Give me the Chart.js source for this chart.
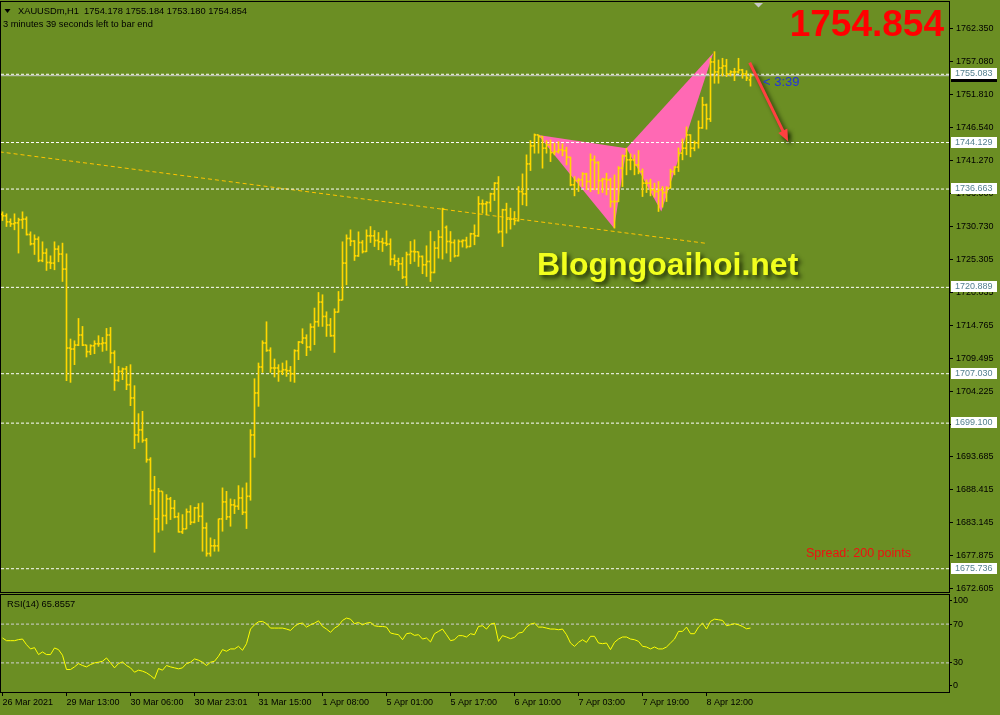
<!DOCTYPE html>
<html><head><meta charset="utf-8">
<script src="https://cdn.jsdelivr.net/npm/chart.js@4.4.1/dist/chart.umd.min.js"></script>
<style>
html,body{margin:0;padding:0;background:#6B8E23;width:1000px;height:715px;overflow:hidden;position:relative}
#c1{position:absolute;left:0;top:0}
#c2{position:absolute;left:0;top:590px}
</style></head><body>
<canvas id="c1" width="1000" height="594"></canvas>
<canvas id="c2" width="1000" height="125"></canvas>
<script>
const FONT = '"Liberation Sans", Arial, sans-serif';

// ---- data (XAUUSDm H1) ----
const xTickLabels = ['26 Mar 2021','29 Mar 13:00','30 Mar 06:00','30 Mar 23:01','31 Mar 15:00','1 Apr 08:00','5 Apr 01:00','5 Apr 17:00','6 Apr 10:00','7 Apr 03:00','7 Apr 19:00','8 Apr 12:00'];
const priceTickLabels = ['1762.350','1757.080','1751.810','1746.540','1741.270','1736.000','1730.730','1725.305','1720.035','1714.765','1709.495','1704.225','1698.955','1693.685','1688.415','1683.145','1677.875','1672.605'];

const highs = [1733.01,1732.69,1731.89,1732.69,1732.00,1733.01,1732.21,1729.80,1729.32,1729.00,1728.20,1727.08,1725.95,1728.20,1727.56,1727.99,1726.27,1712.60,1712.32,1715.90,
1714.62,1711.63,1711.68,1712.32,1713.13,1712.85,1714.30,1714.46,1710.72,1708.20,1707.95,1708.20,1708.48,1705.11,1700.62,1700.99,1696.66,1693.56,1690.57,1688.64,
1688.11,1687.63,1687.20,1686.72,1684.70,1684.42,1685.34,1685.87,1685.60,1686.19,1686.30,1683.09,1680.69,1680.42,1683.73,1688.71,1688.16,1686.94,1686.83,1689.07,
1688.71,1689.51,1698.05,1706.23,1708.75,1712.32,1715.37,1711.20,1709.39,1708.48,1708.75,1709.12,1708.20,1710.88,1712.21,1714.25,1713.29,1715.05,1717.57,1720.07,
1719.70,1716.97,1715.90,1717.45,1720.23,1728.20,1729.32,1730.12,1728.41,1729.80,1728.41,1730.12,1730.65,1730.01,1729.69,1728.79,1729.96,1728.68,1726.11,1725.58,
1725.68,1726.55,1728.25,1728.52,1726.60,1725.95,1727.56,1729.85,1728.25,1730.01,1733.60,1730.76,1729.85,1728.52,1728.52,1728.52,1728.95,1729.59,1730.92,1735.46,
1734.93,1734.66,1736.01,1737.71,1738.67,1733.44,1734.40,1733.60,1733.06,1737.06,1739.10,1742.15,1744.44,1745.51,1745.35,1745.10,1744.44,1744.55,1744.02,1744.28,
1743.91,1743.38,1741.78,1738.67,1738.41,1739.31,1739.21,1742.31,1741.99,1741.07,1738.41,1739.21,1738.41,1738.94,1740.27,1742.15,1743.22,1742.31,1742.15,1742.84,
1739.90,1738.14,1738.25,1737.61,1737.87,1737.06,1737.06,1739.85,1740.27,1743.27,1744.71,1746.64,1745.40,1744.39,1747.60,1751.40,1750.32,1757.65,1758.71,1757.38,
1757.65,1757.49,1755.66,1756.05,1757.65,1755.89,1755.66,1755.18];

const lows = [1731.61,1730.65,1730.65,1730.12,1726.39,1730.33,1729.27,1727.67,1726.16,1724.99,1724.99,1723.60,1723.87,1723.71,1724.99,1721.83,1705.91,1705.64,1708.48,1711.52,
1711.52,1709.71,1710.08,1710.24,1711.41,1710.61,1710.77,1708.75,1704.35,1705.80,1706.07,1704.47,1701.90,1695.01,1696.02,1696.02,1692.81,1686.03,1678.38,1681.59,
1681.91,1682.93,1683.62,1683.90,1681.59,1681.38,1682.13,1682.82,1683.09,1683.30,1678.54,1677.74,1677.74,1678.54,1678.54,1681.75,1683.62,1682.55,1684.58,1685.23,
1684.42,1682.18,1686.72,1693.61,1701.79,1707.24,1710.61,1707.24,1706.50,1705.80,1706.87,1706.60,1705.80,1705.64,1709.28,1711.84,1709.92,1710.77,1711.68,1714.62,
1714.62,1713.01,1713.01,1710.45,1716.90,1718.85,1721.30,1727.56,1725.20,1725.84,1726.39,1726.60,1728.08,1727.44,1726.92,1726.64,1727.56,1724.46,1724.35,1723.60,
1722.27,1721.19,1724.67,1725.04,1724.24,1723.07,1722.63,1721.83,1723.20,1725.58,1725.42,1726.39,1725.04,1725.74,1725.90,1727.35,1727.19,1727.40,1727.72,1729.05,
1732.80,1732.53,1733.06,1734.82,1729.59,1727.44,1729.59,1730.23,1730.92,1731.50,1734.13,1733.97,1739.63,1742.42,1742.42,1740.01,1742.42,1741.07,1742.15,1742.42,
1741.99,1740.54,1737.18,1735.57,1736.26,1737.06,1736.54,1736.26,1736.54,1735.89,1736.10,1735.73,1733.76,1730.39,1734.66,1737.06,1738.94,1739.74,1738.94,1739.10,
1735.46,1736.10,1735.57,1735.36,1733.06,1733.76,1734.66,1736.80,1738.94,1739.47,1741.35,1742.15,1741.83,1742.79,1743.22,1746.40,1746.27,1747.49,1753.64,1753.64,
1754.81,1754.70,1754.81,1754.06,1755.25,1754.44,1754.06,1753.18];

const opens = [1732.60,1732.37,1731.40,1731.08,1731.24,1731.73,1731.84,1729.37,1727.88,1728.63,1725.20,1726.39,1724.88,1724.78,1727.03,1726.23,1723.82,1711.15,1710.99,1711.63,
1713.24,1711.63,1710.56,1711.52,1711.84,1711.84,1711.96,1713.24,1710.35,1705.96,1707.40,1707.79,1705.27,1703.14,1697.20,1698.01,1696.34,1693.24,1688.32,1683.73,
1688.16,1684.26,1686.94,1685.44,1684.06,1681.65,1682.13,1684.86,1683.19,1685.50,1684.15,1682.29,1678.17,1679.41,1679.41,1683.73,1686.46,1684.06,1685.98,1685.76,
1687.10,1684.79,1687.36,1697.20,1703.94,1708.11,1711.96,1710.77,1707.95,1707.95,1707.40,1707.67,1707.51,1707.03,1710.72,1712.11,1712.76,1711.31,1714.52,1715.37,
1718.53,1716.22,1714.84,1713.13,1716.92,1718.85,1724.78,1728.73,1728.31,1725.95,1728.08,1726.64,1729.16,1729.16,1728.41,1728.20,1727.99,1727.83,1725.42,1725.10,
1724.67,1722.54,1726.16,1726.64,1726.59,1725.84,1724.51,1725.04,1723.28,1727.19,1728.95,1730.50,1728.25,1728.08,1725.95,1728.25,1728.41,1727.44,1729.48,1729.16,
1734.29,1734.29,1734.50,1735.89,1737.61,1729.85,1733.33,1731.84,1731.84,1731.61,1736.26,1735.89,1740.70,1743.59,1745.35,1745.08,1743.22,1743.75,1742.52,1742.68,
1742.95,1742.84,1741.78,1737.34,1738.03,1738.14,1739.10,1737.87,1741.35,1740.91,1738.03,1738.25,1738.14,1734.66,1734.66,1740.01,1741.99,1741.35,1741.35,1740.54,
1739.47,1737.61,1737.61,1736.54,1736.26,1736.54,1736.10,1736.81,1739.47,1740.18,1742.42,1743.22,1745.35,1743.22,1744.07,1746.48,1750.16,1747.92,1757.06,1755.46,
1756.10,1756.42,1755.13,1755.46,1755.46,1755.78,1755.13,1754.18];

const closes = [1732.37,1731.40,1731.08,1731.24,1731.73,1731.84,1729.37,1727.88,1728.63,1725.20,1726.39,1724.88,1724.78,1727.03,1726.23,1723.82,1711.15,1710.99,1711.63,1713.24,
1711.63,1710.56,1711.52,1711.84,1711.84,1711.96,1713.24,1710.35,1705.96,1707.40,1707.79,1705.27,1703.14,1697.20,1698.01,1696.34,1693.24,1688.32,1683.73,1688.16,
1684.26,1686.94,1685.44,1684.06,1681.65,1682.13,1684.86,1683.19,1685.50,1684.15,1682.29,1678.17,1679.41,1679.41,1683.73,1686.46,1684.06,1685.98,1685.76,1687.10,
1684.79,1687.36,1697.20,1703.94,1708.11,1711.96,1710.77,1707.95,1707.95,1707.40,1707.67,1707.51,1707.03,1710.72,1712.11,1712.76,1711.31,1714.52,1715.37,1718.53,
1716.22,1714.84,1713.13,1716.92,1718.85,1724.78,1728.73,1728.31,1725.95,1728.08,1726.64,1729.16,1729.16,1728.41,1728.20,1727.99,1727.83,1725.42,1725.10,1724.67,
1722.54,1726.16,1726.64,1726.59,1725.84,1724.51,1725.04,1723.28,1727.19,1728.95,1733.44,1728.25,1728.08,1725.95,1728.25,1728.41,1727.44,1729.48,1729.16,1734.29,
1734.29,1734.50,1735.89,1737.61,1729.85,1733.33,1731.84,1731.84,1731.61,1736.26,1735.89,1740.70,1743.59,1745.35,1745.08,1743.22,1743.75,1742.52,1742.68,1742.95,
1742.84,1741.78,1737.34,1738.03,1738.14,1739.10,1737.87,1741.35,1740.91,1738.03,1738.25,1738.14,1734.66,1734.66,1740.01,1741.99,1741.35,1741.35,1740.54,1739.47,
1737.61,1737.61,1736.54,1736.26,1736.54,1736.10,1736.81,1739.47,1740.18,1742.42,1743.22,1745.35,1743.22,1744.07,1746.48,1750.16,1747.92,1757.06,1755.46,1756.10,
1756.42,1755.13,1755.46,1755.46,1755.78,1755.13,1754.49,1754.854];

const rsi = [55.7,52.9,52.9,52.9,54.0,54.6,48.8,44.4,45.7,38.6,41.3,38.6,38.6,45.4,43.7,37.9,23.2,23.2,25.9,29.3,
27.3,25.9,28.3,30.0,30.7,31.7,35.1,30.0,24.9,29.3,31.0,27.3,24.9,20.4,22.5,21.5,19.8,17.0,13.6,24.2,
22.5,27.3,25.9,24.9,23.9,24.9,29.3,30.7,34.1,32.8,30.7,27.3,30.7,31.7,36.9,43.7,42.0,44.4,44.4,47.1,
43.0,49.8,64.9,69.3,72.4,72.8,70.4,65.9,65.9,65.9,65.9,64.9,63.5,67.6,70.4,71.0,66.9,69.3,71.0,73.4,
67.6,64.9,61.5,65.9,68.3,73.8,76.2,75.1,70.4,71.7,69.3,71.0,71.7,68.3,67.6,67.6,66.9,60.8,59.8,59.1,
53.9,60.1,60.8,58.4,59.1,54.6,55.7,51.6,60.1,62.5,64.9,59.1,52.9,53.9,58.1,58.1,56.7,60.1,59.1,67.6,
68.3,64.9,70.0,71.0,52.2,58.1,56.7,55.0,56.3,60.8,61.5,66.9,70.0,71.0,66.9,66.9,65.9,64.9,64.9,64.2,
64.9,59.1,50.5,47.1,51.2,53.9,51.2,57.4,57.4,50.5,49.8,50.5,43.7,51.2,54.6,56.7,56.7,54.6,53.9,52.2,
47.1,46.4,44.4,46.4,44.4,44.4,46.4,50.5,54.6,62.5,62.5,66.9,60.1,60.1,66.9,71.0,64.9,72.8,75.1,74.5,
73.8,68.3,69.3,70.4,69.3,67.6,65.2,65.9];

const levels = [1755.083, 1744.129, 1736.663, 1720.889, 1707.030, 1699.100, 1675.736];
const bidPrice = 1754.854;
const rsiLevels = [70, 30];
const rsiTickLabels = ['100', '70', '30', '0'];
const rsiTickValues = [94, 70, 30, 6.5];
// harmonic pattern anchors (bar index, price)
const patternXAB = [{x:133.9,y:1745.35},{x:152.9,y:1730.39},{x:156.0,y:1743.22},{x:133.9,y:1745.35}];
const patternBCD = [{x:156.0,y:1743.22},{x:164.7,y:1733.06},{x:177.7,y:1758.50},{x:156.0,y:1743.22}];
const trendLine = [{x:-0.7,y:1742.63},{x:175.8,y:1727.96}];
const arrowPts = [{x:186.8,y:1756.95},{x:196.4,y:1744.28}];

// ---- layout ----
const XMIN = -0.375, XMAX = 236.625;
const GOLD = '#FFD700';

function fixWidth(s){ s.width = 51; s.paddingTop = 0; s.paddingBottom = 0; s.paddingLeft = 0; s.paddingRight = 0; }
function fixHeight(s){ s.height = 23; s.paddingTop = 0; s.paddingBottom = 0; s.paddingLeft = 0; s.paddingRight = 0; }

const borderPlugin = {
  id:'frame',
  afterDraw(chart){
    const {ctx, chartArea:ca} = chart;
    ctx.save();
    ctx.strokeStyle = '#000'; ctx.lineWidth = 1;
    ctx.strokeRect(ca.left-0.5, ca.top-0.5, ca.right-ca.left+1, ca.bottom-ca.top+1);
    ctx.restore();
  }
};

const overlayPlugin = {
  id:'overlay',
  afterDraw(chart){
    const {ctx} = chart;
    const xs = chart.scales.x, ys = chart.scales.y;
    ctx.save();
    // bid label (black) then level labels (white)
    const by = ys.getPixelForValue(bidPrice);
    ctx.fillStyle = '#000';
    ctx.fillRect(951, Math.round(by)-5, 46, 11);
    ctx.font = '9px ' + FONT; ctx.textBaseline = 'middle'; ctx.textAlign = 'left';
    ctx.fillStyle = '#fff'; ctx.fillText(bidPrice.toFixed(3), 955, by+0.5);
    levels.forEach(lv => {
      const y = ys.getPixelForValue(lv);
      ctx.fillStyle = '#fff';
      ctx.fillRect(951, Math.round(y)-6, 46, 11);
      ctx.fillStyle = '#55808F';
      ctx.fillText(lv.toFixed(3), 955, Math.round(y)-0.5);
    });
    // header
    ctx.fillStyle = '#000';
    ctx.beginPath(); ctx.moveTo(4.5,9); ctx.lineTo(10.5,9); ctx.lineTo(7.5,13); ctx.closePath(); ctx.fill();
    ctx.font = '9.3px ' + FONT;
    ctx.fillText('XAUUSDm,H1  1754.178 1755.184 1753.180 1754.854', 18, 11.5);
    ctx.fillText('3 minutes 39 seconds left to bar end', 3, 24.5);
    // chart shift marker
    ctx.fillStyle = '#C8C8C8';
    ctx.beginPath(); ctx.moveTo(754,3); ctx.lineTo(763,3); ctx.lineTo(758.5,7.5); ctx.closePath(); ctx.fill();
    // big price
    ctx.fillStyle = '#FF0000';
    ctx.font = 'bold 37px ' + FONT; ctx.textAlign = 'right';
    ctx.fillText(bidPrice.toFixed(3), 944, 26);
    // watermark
    ctx.textAlign = 'left'; ctx.textBaseline = 'alphabetic';
    ctx.font = 'bold 32px ' + FONT;
    ctx.shadowColor = 'rgba(20,30,0,0.8)'; ctx.shadowBlur = 4; ctx.shadowOffsetX = 3; ctx.shadowOffsetY = 3;
    ctx.fillStyle = '#F2FF1E';
    ctx.fillText('Blogngoaihoi.net', 537, 275);
    // arrow
    const ax1 = xs.getPixelForValue(arrowPts[0].x), ay1 = ys.getPixelForValue(arrowPts[0].y);
    const ax2 = xs.getPixelForValue(arrowPts[1].x), ay2 = ys.getPixelForValue(arrowPts[1].y);
    const ang = Math.atan2(ay2-ay1, ax2-ax1);
    ctx.strokeStyle = '#FF4040'; ctx.fillStyle = '#FF4040'; ctx.lineWidth = 3;
    ctx.beginPath(); ctx.moveTo(ax1, ay1); ctx.lineTo(ax2 - 8*Math.cos(ang), ay2 - 8*Math.sin(ang)); ctx.stroke();
    ctx.beginPath();
    ctx.moveTo(ax2, ay2);
    ctx.lineTo(ax2 - 12*Math.cos(ang) + 5*Math.sin(ang), ay2 - 12*Math.sin(ang) - 5*Math.cos(ang));
    ctx.lineTo(ax2 - 12*Math.cos(ang) - 5*Math.sin(ang), ay2 - 12*Math.sin(ang) + 5*Math.cos(ang));
    ctx.closePath(); ctx.fill();
    ctx.shadowColor = 'transparent'; ctx.shadowBlur = 0; ctx.shadowOffsetX = 0; ctx.shadowOffsetY = 0;
    // timer
    ctx.textBaseline = 'middle';
    ctx.fillStyle = '#2233DD';
    ctx.font = '13px ' + FONT;
    ctx.fillText('< 3:39', 763, 82);
    // spread
    ctx.fillStyle = '#EE1111';
    ctx.font = '12.5px ' + FONT;
    ctx.fillText('Spread: 200 points', 806, 554);
    ctx.restore();
  }
};

const lineDs = (data, opts) => Object.assign({type:'line', data, pointRadius:0, borderWidth:1, tension:0, fill:false}, opts);
const barBase = {type:'bar', grouped:false, maxBarThickness:1, barPercentage:1, categoryPercentage:1, borderWidth:0, backgroundColor:GOLD};

new Chart(document.getElementById('c1'), {
  type:'bar',
  data:{datasets:[
    Object.assign({}, barBase, {data: highs.map((h,i)=>({x:i, y:[lows[i], h]})), order:2}),
    Object.assign({}, barBase, {data: opens.map((o,i)=>({x:i-0.25, y:[o-0.08, o+0.08]})), order:1}),
    Object.assign({}, barBase, {data: closes.map((c,i)=>({x:i+0.25, y:[c-0.08, c+0.08]})), order:1}),
    lineDs(patternXAB, {borderWidth:0, borderColor:'rgba(0,0,0,0)', backgroundColor:'#FF69B4', fill:'shape', order:20}),
    lineDs(patternBCD, {borderWidth:0, borderColor:'rgba(0,0,0,0)', backgroundColor:'#FF69B4', fill:'shape', order:20}),
    lineDs(trendLine, {borderColor:'#FFC400', borderDash:[4,3], order:12}),
    lineDs([{x:XMIN,y:bidPrice},{x:XMAX,y:bidPrice}], {borderColor:'#C8C8C8', order:11}),
    ...levels.map(lv => lineDs([{x:XMIN,y:lv},{x:XMAX,y:lv}], {borderColor:'#FFFFFF', borderDash:[3,2], order:10}))
  ]},
  options:{
    responsive:false, animation:false, devicePixelRatio:1,
    layout:{padding:{left:1, top:2, right:0, bottom:2}},
    plugins:{legend:{display:false}, tooltip:{enabled:false}},
    scales:{
      x:{type:'linear', min:XMIN, max:XMAX, offset:false, display:false},
      y:{position:'right', min:1672.00, max:1766.68,
        afterFit: fixWidth,
        afterBuildTicks(s){ s.ticks = priceTickLabels.map(t => ({value: parseFloat(t)})); },
        ticks:{callback:(v,i)=>priceTickLabels[i], color:'#000', font:{family:FONT, size:9}, padding:3, autoSkip:false},
        grid:{drawOnChartArea:false, drawTicks:true, tickLength:4, color:'#000'},
        border:{display:false}
      }
    }
  },
  plugins:[borderPlugin, overlayPlugin]
});

const rsiTextPlugin = {
  id:'rsiText',
  afterDraw(chart){
    const ctx = chart.ctx;
    ctx.save();
    ctx.fillStyle = '#000'; ctx.font = '9.3px ' + FONT; ctx.textBaseline = 'middle';
    ctx.fillText('RSI(14) 65.8557', 7, 14.5);
    ctx.restore();
  }
};

new Chart(document.getElementById('c2'), {
  type:'line',
  data:{datasets:[
    lineDs(rsi.map((v,i)=>({x:i, y:v})), {borderColor:'#FFFF00', order:1}),
    ...rsiLevels.map(l => lineDs([{x:XMIN,y:l},{x:XMAX,y:l}], {borderColor:'#D0D0D0', borderDash:[3,2], order:5}))
  ]},
  options:{
    responsive:false, animation:false, devicePixelRatio:1,
    layout:{padding:{left:1, top:5, right:0, bottom:0}},
    plugins:{legend:{display:false}, tooltip:{enabled:false}},
    scales:{
      x:{type:'linear', min:XMIN, max:XMAX, offset:false,
        afterFit: fixHeight,
        afterBuildTicks(s){ s.ticks = xTickLabels.map((t,k) => ({value: k*16})); },
        ticks:{callback:(v,i)=>xTickLabels[i], align:'start', maxRotation:0, minRotation:0, autoSkip:false, padding:1, color:'#000', font:{family:FONT, size:9}},
        grid:{drawOnChartArea:false, drawTicks:true, tickLength:4, color:'#000'},
        border:{display:false}
      },
      y:{position:'right', min:0, max:100,
        afterFit: fixWidth,
        afterBuildTicks(s){ s.ticks = rsiTickValues.map(v => ({value:v})); },
        ticks:{callback:(v,i)=>rsiTickLabels[i], color:'#000', font:{family:FONT, size:9}, padding:1, autoSkip:false},
        grid:{drawOnChartArea:false, drawTicks:true, tickLength:3, color:'#000'},
        border:{display:false}
      }
    }
  },
  plugins:[borderPlugin, rsiTextPlugin]
});
</script>
</body></html>
